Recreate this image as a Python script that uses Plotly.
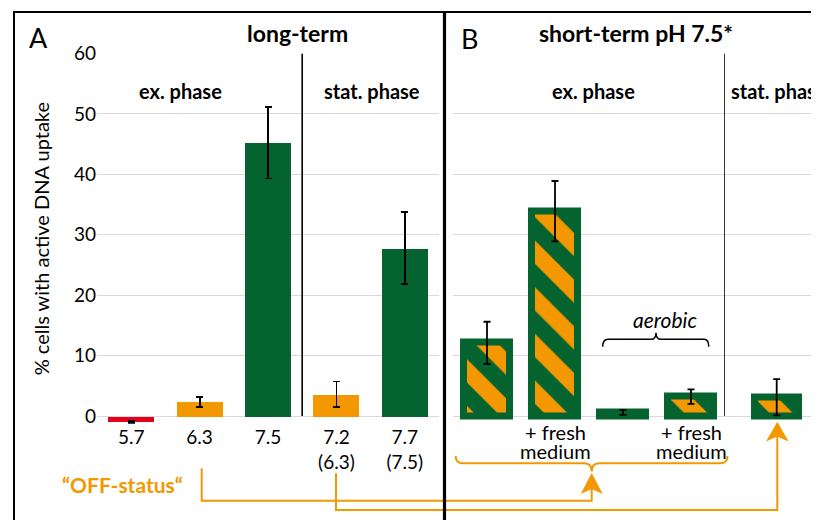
import plotly.graph_objects as go

# ---------------- data ----------------
a_categories = ["5.7", "6.3", "7.5", "7.2 (6.3)", "7.7 (7.5)"]
a_tick_text = ["5.7", "6.3", "7.5", "7.2<br>(6.3)", "7.7<br>(7.5)"]
a_values = [-0.95, 2.35, 45.2, 3.6, 27.8]
a_errors = [0.15, 0.85, 5.9, 2.1, 5.95]
a_color_keys = ["red", "orange", "green", "orange", "green"]

b_categories = ["anaerobic", "anaerobic + fresh medium", "aerobic", "aerobic + fresh medium"]
b_label_line1 = ["", "+ fresh", "", "+ fresh"]
b_label_line2 = ["", "medium", "", "medium"]
b_values = [12.1, 33.9, 0.6, 3.2]
b_errors = [3.5, 5.0, 0.4, 1.2]

c_categories = ["stationary"]
c_values = [3.1]
c_errors = [3.0]

y_ticks = [0, 10, 20, 30, 40, 50, 60]

# ---------------- style ----------------
OFF = 8  # default page body margin
W, H = 819 - OFF, 520 - OFF
GREEN = "#04632F"
ORANGE = "#F39800"
RED = "#E2001A"
GRID = "#D9D9D9"
FONT = "Lato, Carlito, Calibri, sans-serif"
palette = {"red": RED, "orange": ORANGE, "green": GREEN}


def fx(x):
    return (x - OFF) / W


def fy(y):
    return 1 - (y - OFF) / H


def path(cmds):
    out = []
    for c in cmds:
        if isinstance(c, str):
            out.append(c)
        else:
            out.append(f"{fx(c[0]):.5f},{fy(c[1]):.5f}")
    return " ".join(out)


y_dom = [fy(423.85), fy(53.5)]

fig = go.Figure()

err_style = dict(type="data", color="black", thickness=1.8, width=3.5)

fig.add_trace(go.Bar(
    x=a_categories, y=a_values, width=0.67,
    marker=dict(color=[palette[k] for k in a_color_keys], line=dict(width=0)),
    error_y=dict(array=a_errors, **err_style),
    xaxis="x", yaxis="y", showlegend=False,
))

hatch = dict(color=ORANGE, line=dict(color=GREEN, width=7),
             pattern=dict(shape="\\", fgcolor=GREEN, bgcolor=ORANGE,
                          size=33, solidity=0.5, fillmode="replace"))

fig.add_trace(go.Bar(
    x=b_categories, y=b_values, width=0.67, marker=hatch,
    error_y=dict(array=b_errors, **err_style),
    xaxis="x2", yaxis="y2", showlegend=False,
))

fig.add_trace(go.Bar(
    x=c_categories, y=c_values, width=0.465, marker=hatch,
    error_y=dict(array=c_errors, **err_style),
    xaxis="x3", yaxis="y3", showlegend=False,
))

yaxis_common = dict(range=[-1.3, 60], tickvals=y_ticks, showgrid=True,
                    gridcolor=GRID, gridwidth=1.2, zeroline=False,
                    showline=False, domain=y_dom, ticks="")
xaxis_common = dict(type="category", ticks="", showline=False, showgrid=False,
                    zeroline=False)

fig.update_layout(
    width=W, height=H,
    margin=dict(l=0, r=0, t=0, b=0),
    paper_bgcolor="white", plot_bgcolor="white",
    font=dict(family=FONT, color="black"),
    bargap=0,
    xaxis=dict(domain=[fx(97), fx(439)], anchor="y", range=[-0.5, 4.5],
               tickvals=a_categories, ticktext=a_tick_text,
               tickfont=dict(size=19, color="black", family=FONT), **xaxis_common),
    xaxis2=dict(domain=[fx(453), fx(725)], anchor="y2", range=[-0.5, 3.5],
                categoryorder="array", categoryarray=b_categories,
                showticklabels=False, **xaxis_common),
    xaxis3=dict(domain=[fx(725), 1.0], anchor="y3", range=[-0.55, 0.45],
                showticklabels=False, **xaxis_common),
    yaxis=dict(anchor="x", tickfont=dict(size=19, color="black"),
               title=dict(text="% cells with active DNA uptake",
                          font=dict(size=20, color="black"), standoff=18),
               automargin=False, **yaxis_common),
    yaxis2=dict(anchor="x2", matches="y", showticklabels=False, **yaxis_common),
    yaxis3=dict(anchor="x3", matches="y", showticklabels=False, **yaxis_common),
)

shapes = []
# phase dividers inside panels
shapes.append(dict(type="line", xref="x", yref="y", x0=2.5, x1=2.5, y0=0, y1=60,
                   line=dict(color="black", width=1.6)))
shapes.append(dict(type="line", xref="x2", yref="y2", x0=3.5, x1=3.5, y0=0, y1=60,
                   line=dict(color="black", width=1.6)))

OL = dict(color=ORANGE, width=2)
# orange brace under panel B ex. phase
shapes.append(dict(type="path", xref="paper", yref="paper", line=OL, path=path([
    "M", (455.7, 456), "Q", (455.7, 463.3), (463, 463.3), "L", (584, 463.3),
    "Q", (591.7, 463.3), (591.7, 471.5), "Q", (591.7, 463.3), (599.4, 463.3),
    "L", (720, 463.3), "Q", (727.5, 463.3), (727.5, 456)])))
# connector 1: 6.3 -> brace
shapes.append(dict(type="path", xref="paper", yref="paper", line=OL, path=path([
    "M", (201.7, 468.3), "L", (201.7, 500.7), "L", (591.7, 500.7), "L", (591.7, 488)])))
shapes.append(dict(type="path", xref="paper", yref="paper", line=dict(width=0),
                   fillcolor=ORANGE, path=path([
                       "M", (591.7, 473), "L", (580.7, 494), "L", (591.7, 489),
                       "L", (602.7, 494), "Z"])))
# connector 2: 7.2 (6.3) -> stat. phase bar
shapes.append(dict(type="path", xref="paper", yref="paper", line=OL, path=path([
    "M", (336, 473.3), "L", (336, 510), "L", (777.3, 510), "L", (777.3, 436)])))
shapes.append(dict(type="path", xref="paper", yref="paper", line=dict(width=0),
                   fillcolor=ORANGE, path=path([
                       "M", (777.3, 421.7), "L", (766, 441.5), "L", (777.3, 436.5),
                       "L", (788.6, 441.5), "Z"])))
# black "aerobic" brace
shapes.append(dict(type="path", xref="paper", yref="paper",
                   line=dict(color="black", width=1.5), path=path([
                       "M", (602.7, 346.7), "Q", (602.7, 339.3), (608, 339.3),
                       "L", (651, 339.3), "Q", (656, 339.3), (656, 332.7),
                       "Q", (656, 339.3), (661, 339.3), "L", (704, 339.3),
                       "Q", (708.7, 339.3), (708.7, 346.7)])))
# frame
shapes.append(dict(type="line", xref="paper", yref="paper", x0=fx(14), x1=fx(14),
                   y0=fy(12), y1=0, line=dict(color="black", width=2)))
shapes.append(dict(type="line", xref="paper", yref="paper", x0=fx(13), x1=1,
                   y0=fy(12), y1=fy(12), line=dict(color="black", width=2)))
shapes.append(dict(type="line", xref="paper", yref="paper", x0=fx(444.5), x1=fx(444.5),
                   y0=fy(12), y1=0, line=dict(color="black", width=3.2)))
fig.update_layout(shapes=shapes)


def note(text, x, y, size, bold=False, italic=False, color="black", xanchor="center"):
    t = text
    if bold:
        t = f"<b>{t}</b>"
    if italic:
        t = f"<i>{t}</i>"
    return dict(text=t, x=fx(x), y=fy(y), xref="paper", yref="paper",
                xanchor=xanchor, yanchor="middle", showarrow=False,
                font=dict(size=size, color=color, family=FONT))


annotations = [
    note("A", 38.7, 37.5, 27),
    note("B", 470, 38, 27),
    note("long-term", 297, 33, 23, bold=True),
    note("short-term pH 7.5*", 636, 33, 23, bold=True),
    note("ex. phase", 180, 91, 20, bold=True),
    note("stat. phase", 371.5, 91, 20, bold=True),
    note("ex. phase", 593, 91, 20, bold=True),
    note("stat. phase", 729, 91, 20, bold=True, xanchor="left"),
    note("aerobic", 665, 319, 21, italic=True),
    note("\u201cOFF-status\u201c", 122.7, 484, 21, bold=True, color=ORANGE),
]
# two-line category labels of panel B (tight line spacing as in the original)
for cat, l1, l2 in zip(b_categories, b_label_line1, b_label_line2):
    for txt, ypix in ((l1, 432), (l2, 450.5)):
        if txt:
            annotations.append(dict(text=txt, x=cat, xref="x2", y=fy(ypix), yref="paper",
                                    xanchor="center", yanchor="middle", showarrow=False,
                                    font=dict(size=20, color="black", family=FONT)))
fig.update_layout(annotations=annotations)

fig.write_html("out.html")
